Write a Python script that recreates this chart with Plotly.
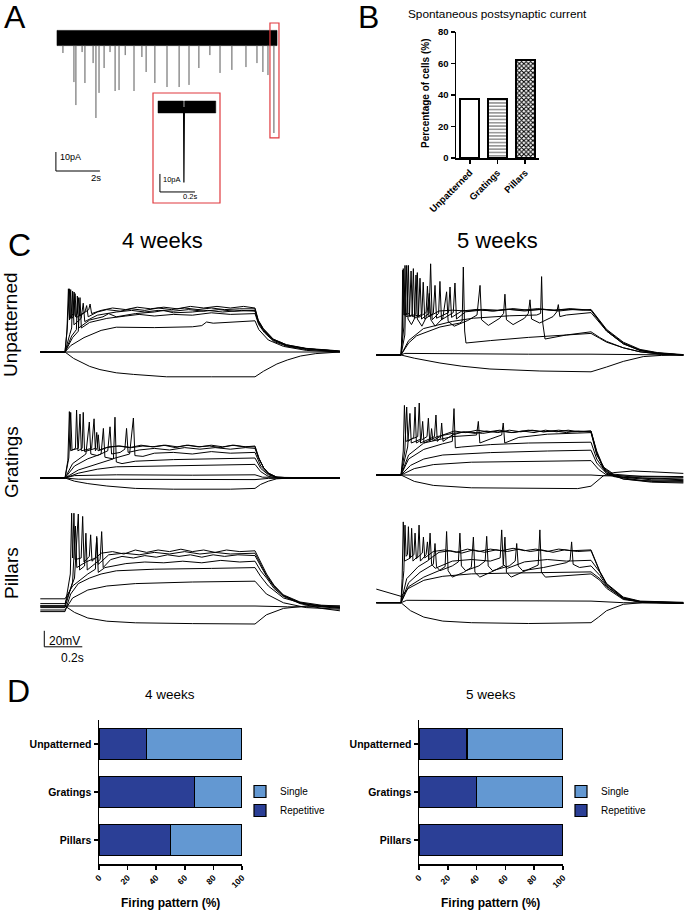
import plotly.graph_objects as go

# ======================= DATA =======================
# Panel A: spontaneous postsynaptic currents (time s, amplitude pA)
EPSC_TIMES_S = [0.27, 0.77, 0.86, 1.14, 1.27, 1.64, 1.77, 1.91, 2.14, 2.41, 2.64, 2.82, 3.10, 3.50,
                3.86, 4.05, 4.45, 5.00, 5.55, 6.00, 6.45, 6.95, 7.41, 7.95, 8.59, 9.09, 9.36, 9.59, 9.86]
EPSC_AMPS_PA = [-7.9, -23.2, -35.3, -7.4, -23.7, -13.2, -42.1, -28.9, -15.8, -7.4, -27.9, -27.4, -9.0, -27.9,
                -10.0, -17.9, -23.7, -25.8, -25.8, -24.7, -15.8, -9.0, -18.4, -16.8, -15.3, -13.2, -17.9, -19.5, -50.0]
RECORDING_S = [0.0, 10.0]
NOISE_PA = 4.0
ZOOM_WINDOW_S = [9.68, 10.09]
ZOOM_WINDOW_PA = [-52.6, 7.9]
INSET_TIME_S = [0.0, 0.33]
INSET_EVENT_S = 0.148
INSET_EVENT_PA = -42.0
INSET_NOISE_PA = 3.3
SCALE_A = {"pA": 10, "s": 2}
SCALE_INSET = {"pA": 10, "s": 0.2}

# Panel B
SPONT_CATEGORIES = ["Unpatterned", "Gratings", "Pillars"]
SPONT_PERCENT = [37.5, 37.5, 62.5]
SPONT_TICKS = [0, 20, 40, 60, 80]

# Panel C: current-clamp traces, (time ms, membrane potential mV)
REST_MV = -70
SCALE_C = {"mV": 20, "ms": 200}

U4_TRACES = [
    [(0,-70),(130,-70),(175,-78),(209,-82),(260,-88),(314,-92),(400,-96),(490,-98),(665,-101),(900,-101),(1130,-101),(1175,-94),(1245,-85),(1300,-80),(1370,-75),(1450,-72),(1540,-70.5),(1577,-70)],
    [(0,-70),(130,-70),(300,-69.5),(600,-70.3),(900,-69.6),(1130,-70),(1350,-70.3),(1577,-70)],
    [(0,-70),(130,-70),(160,-62),(230,-52),(320,-43),(400,-39),(600,-39.5),(800,-38.5),(850,-37),(875,-32.5),(910,-34),(1000,-33),(1100,-31),(1130,-31),(1150,-42),(1200,-55),(1280,-63),(1400,-68),(1577,-70)],
    [(0,-70),(130,-70),(170,-52),(200,-44),(209,-2),(216,-40),(260,-33),(350,-28),(450,-25),(520,-23),(600,-25),(700,-23),(800,-24),(900,-21),(1000,-23),(1130,-22),(1150,-36),(1180,-46),(1230,-57),(1300,-63),(1400,-67),(1577,-69.5)],
    [(0,-70),(130,-70),(155,-48),(165,-40),(170,6),(177,-36),(215,-28),(226,-9),(234,-32),(300,-24),(400,-20),(480,-18),(550,-20),(620,-18),(700,-19),(780,-17),(860,-19),(940,-17),(1020,-19),(1130,-18),(1147,-32),(1174,-42),(1226,-55),(1296,-62),(1402,-66),(1542,-68.5),(1577,-69)],
    [(0,-70),(130,-70),(140,-45),(148,9),(154,-30),(160,8),(166,-28),(178,-24),(183,3),(190,-27),(235,-20),(244,-12),(252,-26),(300,-20),(350,-17),(420,-19),(480,-16),(550,-18),(620,-15),(690,-17),(760,-15),(830,-17),(900,-15),(970,-17),(1050,-16),(1130,-16),(1147,-31),(1174,-41),(1226,-54),(1296,-61),(1402,-66),(1542,-68.5),(1577,-69)],
    [(0,-70),(130,-70),(142,-40),(153,9),(159,-28),(172,-22),(178,5),(185,-26),(195,-22),(200,-2),(207,-25),(255,-17),(262,-10),(270,-22),(320,-18),(380,-15),(450,-17),(510,-14),(580,-16),(650,-14),(720,-16),(790,-13),(860,-15),(930,-13),(1000,-15),(1070,-13),(1130,-15),(1147,-30),(1174,-41),(1226,-54),(1296,-61),(1402,-65.5),(1542,-68),(1577,-69)],
    [(0,-70),(130,-70),(165,-50),(190,-42),(195,0),(202,-40),(260,-30),(330,-26),(360,-22),(400,-26),(500,-22),(600,-20),(650,-18),(700,-21),(800,-20),(880,-18),(960,-20),(1060,-18),(1130,-19),(1147,-33),(1174,-43),(1226,-55),(1296,-62),(1402,-66),(1542,-68.5),(1577,-69.5)],
]

U5_TRACES = [
    [(0,-70),(130,-70),(200,-74),(335,-80),(450,-84),(598,-87.5),(861,-90),(1130,-91),(1212,-85),(1300,-78),(1405,-72),(1500,-70.5),(1616,-70)],
    [(0,-70),(130,-70),(150,-68),(400,-68.5),(800,-69),(1130,-69),(1300,-69.5),(1616,-70)],
    [(0,-70),(130,-70),(170,-55),(212,-46),(335,-35),(440,-30),(452,-28),(458,40),(465,-40),(472,-55),(600,-52),(800,-48),(1000,-45),(1130,-43),(1175,-49),(1212,-54),(1300,-61),(1388,-66),(1500,-69),(1616,-70)],
    [(0,-70),(130,-70),(170,-52),(248,-37),(400,-28),(511,-24),(700,-21),(844,-20),(865,-18),(870,28),(876,-30),(888,-50),(1000,-45),(1130,-41),(1175,-48),(1212,-53),(1300,-61),(1388,-66),(1500,-69),(1616,-70)],
    [(0,-70),(130,-70),(150,-45),(160,42),(167,-25),(185,-32),(200,-25),(209,30),(216,-25),(240,-34),(265,-22),(279,7),(287,-26),(310,-34),(350,-24),(370,9),(378,-28),(410,-34),(480,-27),(530,-20),(546,17),(554,-26),(590,-33),(650,-24),(670,-18),(677,6),(685,-26),(720,-32),(780,-24),(800,-18),(809,-1),(817,-25),(860,-30),(930,-22),(950,-16),(958,-7),(966,-22),(1000,-20),(1130,-17),(1175,-30),(1212,-40),(1300,-56),(1388,-64),(1480,-67.5),(1560,-69),(1616,-70)],
    [(0,-70),(130,-70),(137,-40),(142,38),(148,-20),(175,-18),(183,35),(190,-22),(222,-20),(230,26),(238,-25),(278,-18),(286,44),(294,-26),(328,-18),(335,22),(343,-26),(405,-17),(414,20),(422,-25),(470,-16),(550,-14),(620,-15),(700,-13),(780,-15),(860,-13),(940,-14),(1020,-12),(1130,-14),(1175,-28),(1212,-39),(1300,-55),(1388,-64),(1480,-67.5),(1560,-69),(1616,-70)],
    [(0,-70),(130,-70),(145,-35),(151,42),(157,-22),(188,-20),(195,38),(202,-24),(240,-19),(247,21),(255,-25),(300,-18),(309,17),(317,-24),(380,-17),(388,15),(396,-23),(450,-15),(530,-13),(610,-15),(690,-13),(770,-14),(850,-12),(930,-14),(1010,-13),(1090,-14),(1130,-13),(1175,-27),(1212,-38),(1300,-54),(1388,-63),(1480,-67),(1560,-69),(1616,-69.5)],
    [(0,-70),(130,-70),(135,-45),(139,36),(145,-20),(162,-18),(169,42),(175,-22),(208,-19),(216,33),(223,-23),(262,-17),(269,16),(277,-22),(330,-15),(400,-14),(480,-15),(560,-13),(640,-14),(720,-12),(800,-14),(880,-13),(960,-15),(1040,-13),(1130,-14),(1175,-29),(1212,-40),(1300,-56),(1388,-64.5),(1480,-68),(1560,-69.5),(1616,-70)],
]

G4_TRACES = [
    [(0,-70),(130,-70),(180,-74),(250,-77),(350,-80),(500,-83),(700,-84),(1000,-84),(1130,-83),(1160,-78),(1200,-74),(1244,-71),(1320,-70),(1577,-70)],
    [(0,-70),(130,-70),(180,-67),(400,-66),(800,-66.5),(1130,-66),(1170,-69),(1577,-70)],
    [(0,-70),(130,-70),(200,-71.5),(600,-72),(1130,-72),(1200,-70.5),(1577,-70)],
    [(0,-70),(130,-70),(200,-64),(300,-59),(400,-56),(600,-55),(900,-54),(1130,-53),(1160,-62),(1200,-68),(1260,-70),(1577,-70)],
    [(0,-70),(130,-70),(200,-60),(300,-52),(385,-46),(393,6),(400,-50),(430,-52),(500,-49),(700,-47),(900,-46),(1130,-45),(1160,-58),(1200,-66),(1260,-70),(1577,-70)],
    [(0,-70),(130,-70),(180,-55),(250,-46),(320,-40),(332,-8),(340,-44),(380,-46),(470,-40),(490,5),(498,-42),(540,-43),(600,-39),(700,-38),(800,-40),(900,-37),(1000,-39),(1130,-38),(1160,-55),(1200,-65),(1250,-70),(1577,-70)],
    [(0,-70),(130,-70),(170,-52),(240,-40),(258,0),(266,-40),(300,-42),(355,-36),(367,-6),(375,-40),(420,-38),(445,-34),(454,-8),(462,-38),(520,-35),(600,-33),(680,-35),(760,-32),(840,-34),(920,-32),(1000,-34),(1080,-32),(1130,-33),(1150,-46),(1175,-57),(1200,-64),(1244,-69),(1350,-70),(1577,-70)],
    [(0,-70),(130,-70),(150,-45),(160,12),(167,-35),(200,-33),(209,10),(216,-36),(270,-33),(283,4),(290,-36),(300,-32),(305,-16),(312,-35),(360,-31),(420,-30),(480,-32),(540,-30),(600,-31),(660,-29),(720,-31),(780,-29),(840,-31),(900,-29),(960,-31),(1020,-29),(1080,-31),(1130,-30),(1150,-45),(1175,-57),(1200,-64),(1244,-69),(1350,-70),(1577,-70)],
    [(0,-70),(130,-70),(145,-48),(153,13),(160,-36),(185,-33),(191,15),(198,-36),(220,-33),(226,12),(233,-37),(290,-33),(297,-13),(304,-36),(350,-32),(410,-30),(470,-32),(530,-29),(590,-31),(650,-29),(710,-32),(770,-29),(830,-31),(890,-30),(950,-32),(1010,-29),(1070,-31),(1130,-31),(1150,-45),(1175,-57),(1200,-64),(1244,-69),(1350,-70),(1577,-70)],
]

G5_TRACES = [
    [(0,-70),(130,-70),(200,-78),(300,-83),(500,-86),(800,-87),(1060,-87),(1130,-84),(1170,-76),(1195,-71),(1250,-67),(1350,-65),(1450,-66),(1550,-67.5),(1616,-68)],
    [(0,-70),(130,-70),(300,-70.5),(700,-70),(1130,-70),(1200,-71),(1400,-71.5),(1616,-72)],
    [(0,-70),(130,-70),(200,-62),(300,-57),(500,-54),(800,-53),(1130,-52),(1170,-63),(1212,-70),(1300,-73),(1450,-74),(1616,-75)],
    [(0,-70),(130,-70),(180,-58),(250,-50),(350,-45),(600,-42),(900,-40),(1130,-39),(1160,-55),(1212,-68),(1300,-73),(1450,-76),(1616,-77)],
    [(0,-70),(130,-70),(170,-50),(250,-38),(350,-31),(400,-28),(409,13),(416,-36),(450,-35),(600,-32),(800,-30),(1000,-29),(1130,-29),(1160,-50),(1212,-68),(1300,-75),(1450,-78),(1616,-79)],
    [(0,-70),(130,-70),(170,-45),(250,-30),(400,-22),(528,-20),(537,-3),(545,-30),(600,-25),(660,-20),(668,-5),(676,-30),(750,-23),(900,-19),(1130,-17),(1160,-45),(1212,-66),(1300,-75),(1450,-79),(1616,-80)],
    [(0,-70),(130,-70),(142,-40),(148,17),(155,-28),(218,-22),(226,20),(233,-30),(306,-22),(314,5),(321,-28),(338,-24),(344,-5),(351,-28),(400,-20),(460,-16),(520,-18),(580,-15),(640,-17),(700,-14),(760,-16),(820,-14),(880,-16),(940,-15),(1000,-17),(1060,-15),(1130,-16),(1160,-42),(1195,-62),(1250,-72),(1400,-77),(1616,-78)],
    [(0,-70),(130,-70),(150,-40),(160,15),(167,-28),(197,-23),(204,15),(211,-30),(267,-22),(274,1),(281,-28),(286,-24),(291,-12),(298,-27),(350,-20),(410,-15),(470,-17),(530,-14),(590,-16),(650,-14),(710,-17),(770,-15),(830,-17),(890,-14),(950,-16),(1010,-14),(1070,-16),(1130,-15),(1160,-42),(1195,-61),(1250,-70),(1400,-74),(1616,-76)],
    [(0,-70),(130,-70),(165,-35),(177,7),(184,-30),(236,-25),(244,-3),(251,-30),(320,-22),(400,-18),(480,-16),(560,-18),(640,-15),(720,-17),(800,-14),(880,-16),(960,-14),(1040,-16),(1130,-15),(1160,-40),(1195,-60),(1250,-69),(1400,-72),(1616,-73)],
]

P4_TRACES = [
    [(0,-70),(130,-70),(180,-78),(250,-85),(350,-89),(500,-91),(800,-92),(1130,-92.5),(1190,-81),(1280,-73),(1400,-70),(1577,-70)],
    [(0,-70),(130,-70),(400,-70),(700,-70.5),(1130,-70),(1300,-71),(1577,-71)],
    [(0,-75),(130,-75),(170,-60),(250,-50),(350,-45),(500,-42),(800,-40),(1130,-39),(1190,-55),(1280,-66),(1400,-72),(1577,-74)],
    [(0,-77),(130,-77),(160,-55),(200,-42),(260,-35),(320,-30),(400,-26),(600,-24),(900,-23),(1130,-22),(1160,-33),(1200,-45),(1280,-60),(1400,-68),(1577,-72)],
    [(0,-61),(130,-61),(170,-45),(250,-30),(290,-24),(297,17),(305,-28),(340,-22),(450,-17),(550,-15),(650,-16),(750,-14),(850,-16),(950,-13),(1050,-15),(1130,-14),(1160,-26),(1191,-35),(1230,-48),(1279,-58),(1367,-67),(1480,-73),(1577,-76)],
    [(0,-67),(130,-67),(180,-35),(200,45),(207,-25),(233,-20),(240,21),(247,-25),(315,-12),(323,23),(331,-22),(370,-12),(430,-8),(490,-10),(550,-7),(610,-9),(670,-6),(730,-8),(790,-6),(850,-9),(910,-6),(970,-8),(1040,-6),(1130,-7),(1160,-20),(1191,-33),(1230,-46),(1279,-57),(1367,-66),(1480,-71),(1577,-73)],
    [(0,-70),(130,-70),(158,-30),(165,46),(170,-10),(177,46),(183,-12),(215,-10),(223,42),(230,-15),(258,-8),(265,19),(272,-14),(320,-4),(380,-2),(440,-5),(500,0),(560,-3),(620,0),(680,-2),(740,1),(800,-2),(860,0),(920,-3),(980,0),(1050,-2),(1130,-1),(1160,-15),(1191,-30),(1230,-44),(1279,-56),(1367,-65),(1480,-69),(1577,-70)],
    [(0,-72),(130,-72),(170,-40),(185,30),(192,-22),(240,-15),(290,-10),(297,15),(305,-18),(360,-6),(440,-4),(520,-6),(600,-3),(680,-5),(760,-2),(840,-5),(920,-3),(1000,-5),(1130,-4),(1160,-18),(1191,-32),(1230,-45),(1279,-57),(1367,-66),(1480,-70),(1577,-72)],
]

P5_TRACES = [
    [(0,-70),(130,-70),(180,-80),(250,-88),(350,-93),(500,-95),(800,-96),(1100,-95.5),(1130,-95),(1170,-88),(1212,-80),(1300,-72),(1400,-70),(1616,-71)],
    [(0,-70),(130,-70),(160,-67),(600,-67.5),(1130,-68),(1300,-70),(1616,-70.5)],
    [(0,-53),(60,-57),(130,-62),(170,-52),(250,-42),(350,-37),(500,-34),(700,-33),(900,-32),(1050,-32),(1130,-31.5),(1177,-40),(1212,-50),(1300,-65),(1388,-69),(1616,-71)],
    [(0,-70),(130,-70),(170,-50),(250,-38),(330,-30),(362,-25),(370,19),(378,-30),(400,-38),(460,-32),(500,-26),(511,12),(519,-32),(545,-38),(620,-30),(668,-24),(677,12),(685,-32),(710,-38),(800,-29),(852,-23),(861,21),(869,-32),(890,-38),(1000,-36),(1130,-34),(1177,-42),(1212,-52),(1300,-66),(1388,-69),(1616,-71)],
    [(0,-70),(130,-70),(170,-45),(230,-32),(300,-22),(309,4),(317,-25),(335,-30),(400,-24),(432,-19),(440,17),(448,-24),(470,-30),(540,-24),(573,-18),(581,13),(589,-24),(612,-30),(700,-24),(731,-18),(739,4),(747,-24),(770,-30),(880,-26),(1000,-20),(1020,-17),(1028,6),(1036,-22),(1070,-26),(1130,-24),(1177,-36),(1212,-49),(1300,-65),(1388,-69),(1616,-70)],
    [(0,-70),(130,-70),(160,-40),(220,-25),(275,-17),(283,17),(291,-22),(310,-27),(400,-18),(500,-16),(600,-18),(652,-14),(660,21),(668,-22),(690,-27),(780,-19),(900,-16),(1000,-18),(1130,-17),(1177,-32),(1212,-47),(1300,-64),(1388,-68.5),(1616,-70.5)],
    [(0,-70),(130,-70),(136,-40),(142,31),(149,-18),(180,-14),(186,23),(193,-18),(218,-12),(225,27),(232,-18),(262,-10),(269,6),(277,-16),(330,-7),(390,-5),(450,-8),(510,-4),(570,-7),(630,-4),(690,-6),(750,-3),(810,-6),(870,-4),(930,-7),(990,-4),(1060,-6),(1130,-5),(1177,-32),(1212,-47),(1300,-64),(1388,-68.5),(1616,-70)],
    [(0,-70),(130,-70),(145,-30),(151,27),(157,-12),(164,-10),(169,25),(175,-14),(198,-10),(204,17),(211,-15),(242,-8),(248,12),(255,-14),(300,-6),(360,-4),(420,-7),(480,-3),(540,-6),(600,-3),(660,-5),(720,-2),(780,-5),(840,-3),(900,-6),(960,-3),(1030,-5),(1130,-4),(1177,-31),(1212,-46),(1300,-63),(1388,-68),(1616,-69.5)],
]

# Panel D: firing pattern (%)
FIRING_CATEGORIES = ["Unpatterned", "Gratings", "Pillars"]
FIRING_4W_REPETITIVE = [33.3, 66.7, 50.0]
FIRING_4W_SINGLE = [66.7, 33.3, 50.0]
FIRING_5W_REPETITIVE = [33.3, 40.0, 100.0]
FIRING_5W_SINGLE = [66.7, 60.0, 0.0]
FIRING_TICKS = [0, 20, 40, 60, 80, 100]

# ======================= STYLE / LAYOUT =======================
W, H = 685, 914
FONT = "Liberation Sans, Arial, Helvetica, sans-serif"
DARK_BLUE = "#2B3F96"
LIGHT_BLUE = "#6398D2"
RED = "#E0393E"


def fx(px):
    return px / W


def fy(py):
    return 1 - py / H


fig = go.Figure()
layout = dict(
    template="none",
    width=W, height=H, margin=dict(l=0, r=0, t=0, b=0, pad=0, autoexpand=False),
    paper_bgcolor="white", plot_bgcolor="rgba(0,0,0,0)",
    barmode="stack", font=dict(family=FONT, color="black"),
    showlegend=True,
)
axes_count = [0]


def new_axes(xdom, ydom, xax, yax):
    axes_count[0] += 1
    n = axes_count[0]
    s = "" if n == 1 else str(n)
    xax = dict(xax, domain=[fx(xdom[0]), fx(xdom[1])], anchor="y" + s, automargin=False)
    yax = dict(yax, domain=[fy(ydom[1]), fy(ydom[0])], anchor="x" + s, automargin=False)
    layout["xaxis" + s] = xax
    layout["yaxis" + s] = yax
    return "x" + s, "y" + s


def hidden(rng):
    return dict(visible=False, range=rng, fixedrange=True, showgrid=False, zeroline=False)


def linear_axes(xdom, ydom, x0_px, y0_px, sx, sy, xval0=0.0, yval0=0.0):
    xr = [xval0 + (xdom[0] - x0_px) / sx, xval0 + (xdom[1] - x0_px) / sx]
    yr = [yval0 - (ydom[1] - y0_px) / sy, yval0 + (y0_px - ydom[0]) / sy]
    return new_axes(xdom, ydom, hidden(xr), hidden(yr))


annotations = []
shapes = []


def ann(text, x, y, size, bold=False, angle=0, xanchor="center", yanchor="middle", color="black"):
    annotations.append(dict(
        text=text, x=fx(x), y=fy(y), xref="paper", yref="paper", showarrow=False,
        xanchor=xanchor, yanchor=yanchor, textangle=angle,
        font=dict(size=size, family=FONT, color=color, weight="bold" if bold else "normal")))


# ---------- Panel A ----------
xa, ya = linear_axes((48, 290), (15, 190), x0_px=57, y0_px=38, sx=22, sy=1.9)
t0, t1 = RECORDING_S
fig.add_trace(go.Scatter(x=[t0, t1, t1, t0, t0], y=[NOISE_PA, NOISE_PA, -NOISE_PA, -NOISE_PA, NOISE_PA],
                         fill="toself", fillcolor="black", mode="lines", line=dict(width=0.6, color="black"),
                         xaxis=xa, yaxis=ya, showlegend=False, hoverinfo="skip"))
ex, ey = [], []
for t, a in zip(EPSC_TIMES_S, EPSC_AMPS_PA):
    ex += [t, t, None]
    ey += [-NOISE_PA, a, None]
fig.add_trace(go.Scatter(x=ex, y=ey, mode="lines", line=dict(color="#5a5a5a", width=1),
                         xaxis=xa, yaxis=ya, showlegend=False, hoverinfo="skip"))
# scale bar A
sbx = -0.05
sby = -70
fig.add_trace(go.Scatter(x=[sbx, sbx, sbx + SCALE_A["s"]], y=[sby + SCALE_A["pA"], sby, sby],
                         mode="lines", line=dict(color="black", width=1),
                         xaxis=xa, yaxis=ya, showlegend=False, hoverinfo="skip"))
shapes.append(dict(type="rect", xref=xa, yref=ya, x0=ZOOM_WINDOW_S[0], x1=ZOOM_WINDOW_S[1],
                   y0=ZOOM_WINDOW_PA[0], y1=ZOOM_WINDOW_PA[1], line=dict(color=RED, width=1.2)))
ann(f"{SCALE_A['pA']}pA", 58, 157, 9, xanchor="left")
ann(f"{SCALE_A['s']}s", 96, 178, 9.5)

# inset
xi, yi = linear_axes((153, 220), (93, 203), x0_px=158, y0_px=107, sx=175, sy=1.8)
i0, i1 = INSET_TIME_S
ev = INSET_EVENT_S
fig.add_trace(go.Scatter(
    x=[i0, ev - 0.003, ev - 0.003, i0, i0, None, ev + 0.004, i1, i1, ev + 0.004, ev + 0.004],
    y=[INSET_NOISE_PA, INSET_NOISE_PA, -INSET_NOISE_PA, -INSET_NOISE_PA, INSET_NOISE_PA, None,
       INSET_NOISE_PA, INSET_NOISE_PA, -INSET_NOISE_PA, -INSET_NOISE_PA, INSET_NOISE_PA],
    fill="toself", fillcolor="black", mode="lines", line=dict(width=0.5, color="black"),
    xaxis=xi, yaxis=yi, showlegend=False, hoverinfo="skip"))
fig.add_trace(go.Scatter(x=[ev - 0.002, ev, ev + 0.003], y=[0, INSET_EVENT_PA, 0], mode="lines",
                         line=dict(color="black", width=1.2), xaxis=xi, yaxis=yi, showlegend=False, hoverinfo="skip"))
isx, isy = 0.011, -47.2
fig.add_trace(go.Scatter(x=[isx, isx, isx + SCALE_INSET["s"]], y=[isy + SCALE_INSET["pA"], isy, isy],
                         mode="lines", line=dict(color="black", width=1),
                         xaxis=xi, yaxis=yi, showlegend=False, hoverinfo="skip"))
shapes.append(dict(type="rect", xref="paper", yref="paper", x0=fx(153), x1=fx(220), y0=fy(203), y1=fy(93),
                   line=dict(color=RED, width=1.2)))
ann(f"{SCALE_INSET['pA']}pA", 161, 179, 7.5, xanchor="left")
ann(f"{SCALE_INSET['s']}s", 190, 197, 7.5)

# ---------- Panel B ----------
bx_ax = dict(type="category", range=[-0.5, 2.5], showline=True, linewidth=1.5, linecolor="black",
             ticks="outside", ticklen=4, tickwidth=1.5, tickcolor="black", tickangle=-45,
             tickfont=dict(size=9.5, weight="bold", family=FONT), showgrid=False, zeroline=False, fixedrange=True)
by_ax = dict(range=[0, 80], tickvals=SPONT_TICKS, showline=True, linewidth=1.5, linecolor="black",
             ticks="outside", ticklen=4, tickwidth=1.5, tickcolor="black",
             tickfont=dict(size=9.5, weight="bold", family=FONT), showgrid=False, zeroline=False, fixedrange=True)
xb, yb = new_axes((456, 539), (32, 158), bx_ax, by_ax)
fig.add_trace(go.Bar(x=SPONT_CATEGORIES, y=SPONT_PERCENT, width=0.68, xaxis=xb, yaxis=yb, showlegend=False,
                     marker=dict(color="white", line=dict(color="black", width=2),
                                 pattern=dict(shape=["", "-", "x"], fgcolor=["black", "#555555", "black"],
                                              bgcolor="white", size=[4, 3.3, 3.2], solidity=[0.2, 0.3, 0.55],
                                              fillmode="replace")),
                     hoverinfo="skip"))
ann("Spontaneous postsynaptic current", 497, 14, 11.8)
ann("Percentage of cells (%)", 425, 94, 10, bold=True, angle=-90)

# ---------- Panel C ----------
PX_PER_MS = 0.19
PX_PER_MV = 0.8


def trace_panel(traces, xdom, ydom, x0_px, base_px):
    xa_, ya_ = linear_axes(xdom, ydom, x0_px=x0_px, y0_px=base_px, sx=PX_PER_MS, sy=PX_PER_MV,
                           xval0=0.0, yval0=REST_MV)
    xs, ys = [], []
    for tr in traces:
        for t, v in tr:
            xs.append(t)
            ys.append(v)
        xs.append(None)
        ys.append(None)
    fig.add_trace(go.Scatter(x=xs, y=ys, mode="lines", line=dict(color="black", width=1.0),
                             xaxis=xa_, yaxis=ya_, showlegend=False, hoverinfo="skip"))
    return xa_, ya_


COL1 = (40, 342)
COL2 = (376, 684)
trace_panel(U4_TRACES, COL1, (255, 393), 40.3, 352)
trace_panel(U5_TRACES, COL2, (255, 393), 376.3, 355)
trace_panel(G4_TRACES, COL1, (396, 505), 40.3, 478)
trace_panel(G5_TRACES, COL2, (396, 505), 376.3, 475)
xp4, yp4 = trace_panel(P4_TRACES, COL1, (508, 668), 40.3, 606)
trace_panel(P5_TRACES, COL2, (508, 632), 376.3, 602.7)
# scale bar C (in the Pillars 4-week axes)
csx, csy = 21, -121
fig.add_trace(go.Scatter(x=[csx, csx, csx + SCALE_C["ms"]], y=[csy + SCALE_C["mV"], csy, csy],
                         mode="lines", line=dict(color="black", width=1),
                         xaxis=xp4, yaxis=yp4, showlegend=False, hoverinfo="skip"))
ann(f"{SCALE_C['mV']}mV", 47, 641, 12, xanchor="left")
ann(f"{SCALE_C['ms'] / 1000:g}s", 72, 658, 12)

ann("4 weeks", 162, 240, 22)
ann("5 weeks", 497, 240, 22)
ann("Unpatterned", 11, 325, 19, angle=-90)
ann("Gratings", 11, 462, 19, angle=-90)
ann("Pillars", 11, 573, 19, angle=-90)

# ---------- Panel D ----------


def d_axes(xdom):
    xax = dict(range=[0, 100], tickvals=FIRING_TICKS, showline=True, linewidth=1.5, linecolor="black",
               ticks="outside", ticklen=4, tickwidth=1.5, tickcolor="black", tickangle=-45,
               tickfont=dict(size=8.5, weight="bold", family=FONT), showgrid=False, zeroline=False, fixedrange=True)
    yax = dict(type="category", categoryorder="array", categoryarray=FIRING_CATEGORIES, autorange="reversed",
               showline=True, linewidth=1.5, linecolor="black", ticks="outside", ticklen=4, tickwidth=1.5,
               tickcolor="black", tickfont=dict(size=10.5, weight="bold", family=FONT),
               showgrid=False, zeroline=False, fixedrange=True)
    return new_axes(xdom, (720, 864), xax, yax)


for (xdom, rep, sing, leg, legx, title_x) in [
    ((99, 242), FIRING_4W_REPETITIVE, FIRING_4W_SINGLE, "legend", 240, 170),
    ((419, 563), FIRING_5W_REPETITIVE, FIRING_5W_SINGLE, "legend2", 561, 491),
]:
    xd, yd = d_axes(xdom)
    fig.add_trace(go.Bar(y=FIRING_CATEGORIES, x=rep, orientation="h", width=0.65, name="Repetitive",
                         marker=dict(color=DARK_BLUE, line=dict(color="black", width=1.2)),
                         xaxis=xd, yaxis=yd, legend=leg, hoverinfo="skip"))
    fig.add_trace(go.Bar(y=FIRING_CATEGORIES, x=sing, orientation="h", width=0.65, name="Single",
                         marker=dict(color=LIGHT_BLUE, line=dict(color="black", width=1.2)),
                         xaxis=xd, yaxis=yd, legend=leg, hoverinfo="skip"))
    layout[leg] = dict(x=fx(legx), y=fy(777), xanchor="left", yanchor="top", traceorder="reversed",
                       font=dict(size=10, family=FONT), bgcolor="rgba(0,0,0,0)", itemwidth=30,
                       tracegroupgap=0)
    ann("Firing pattern (%)", title_x, 903, 12, bold=True)

ann("4 weeks", 170, 694, 13.5)
ann("5 weeks", 491, 694, 13.5)

# panel letters
ann("A", 15, 17, 32)
ann("B", 368, 17, 32)
ann("C", 19, 245, 32)
ann("D", 18, 691, 32)

layout["annotations"] = annotations
layout["shapes"] = shapes
fig.update_layout(**layout)
fig.write_html("out.html", config={"displayModeBar": False, "staticPlot": True},
               post_script="document.body.style.margin='0';document.body.style.overflow='hidden';")
